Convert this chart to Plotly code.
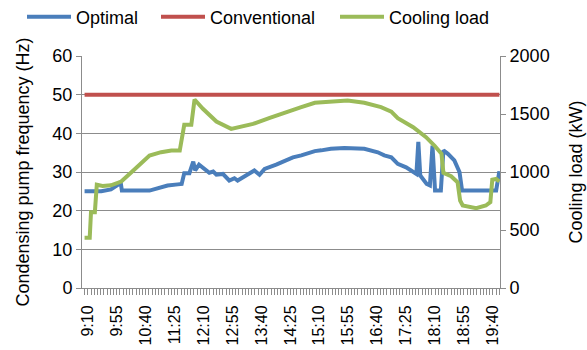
import plotly.graph_objects as go

# ---- data ----
x_labels = ["9:10", "9:55", "10:40", "11:25", "12:10", "12:55", "13:40", "14:25",
            "15:10", "15:55", "16:40", "17:25", "18:10", "18:55", "19:40"]

optimal_time = ["9:05", "9:31", "9:46", "9:57", "10:01", "10:03", "10:46", "10:59", "11:14",
                "11:30", "11:36", "11:40", "11:48", "11:54", "11:57", "12:03", "12:09", "12:19",
                "12:25", "12:30", "12:40", "12:50", "12:58", "13:03", "13:16", "13:29", "13:37",
                "13:45", "14:03", "14:21", "14:29", "14:42", "15:03", "15:13", "15:28", "15:49",
                "16:20", "16:41", "16:51", "17:02", "17:12", "17:25", "17:41", "17:44", "17:47",
                "17:57", "18:02", "18:06", "18:10", "18:19", "18:23", "18:30", "18:40", "18:48",
                "18:52", "19:45", "19:50"]
optimal_hz = [25.0, 25.0, 25.5, 26.7, 27.5, 25.2, 25.2, 25.8, 26.5,
              26.8, 26.9, 29.7, 29.7, 32.7, 30.4, 31.9, 31.2, 29.8,
              30.1, 29.3, 29.5, 27.8, 28.4, 27.8, 29.1, 30.4, 29.3,
              30.8, 31.9, 33.2, 33.8, 34.3, 35.4, 35.6, 36.0, 36.2,
              36.0, 35.1, 34.3, 33.8, 32.1, 31.2, 29.5, 37.8, 29.1,
              26.9, 26.5, 36.8, 25.2, 25.2, 35.6, 34.7, 33.0, 30.0,
              25.2, 25.2, 30.2]

conventional_time = ["9:05", "19:50"]
conventional_hz = [50, 50]

load_time = ["9:05", "9:13", "9:15", "9:21", "9:24", "9:33", "9:46", "10:02", "10:17", "10:33",
             "10:46", "11:04", "11:20", "11:33", "11:40", "11:51", "11:56", "12:09", "12:30",
             "12:53", "13:11", "13:27", "13:53", "14:13", "14:29", "14:42", "15:03", "15:28",
             "15:54", "16:20", "16:46", "17:02", "17:12", "17:36", "17:56", "18:09", "18:20",
             "18:23", "18:35", "18:45", "18:49", "18:53", "19:14", "19:29", "19:36", "19:39",
             "19:45", "19:50"]
load_kw = [433, 433, 653, 653, 890, 880, 885, 918, 993, 1079,
           1142, 1171, 1185, 1185, 1407, 1407, 1625, 1545, 1435,
           1372, 1392, 1415, 1467, 1507, 1536, 1559, 1597, 1608,
           1616, 1597, 1559, 1521, 1464, 1386, 1300, 1228, 1157,
           993, 964, 912, 754, 711, 688, 711, 740, 933,
           940, 918]


def to_min(s):
    h, m = s.split(":")
    return int(h) * 60 + int(m)


BLUE = "#4A7EBB"
RED = "#C0504D"
GREEN = "#9BBB59"
GRID = "#8C8C8C"
FONT = "Liberation Sans, Arial, sans-serif"

fig = go.Figure()
fig.add_trace(go.Scatter(x=[to_min(t) for t in optimal_time], y=optimal_hz, mode="lines",
                         name="Optimal", line=dict(color=BLUE, width=4), legend="legend"))
fig.add_trace(go.Scatter(x=[to_min(t) for t in conventional_time], y=conventional_hz, mode="lines",
                         name="Conventional", line=dict(color=RED, width=4), legend="legend2"))
fig.add_trace(go.Scatter(x=[to_min(t) for t in load_time], y=load_kw, mode="lines",
                         name="Cooling load", line=dict(color=GREEN, width=4), yaxis="y2",
                         legend="legend3"))

leg_common = dict(orientation="h", xref="container", yref="container", yanchor="middle",
                  xanchor="left", y=1 - 17 / 350, font=dict(size=18, color="#000", family=FONT),
                  bgcolor="rgba(0,0,0,0)", itemwidth=44, tracegroupgap=0)

fig.update_layout(
    width=587, height=350,
    margin=dict(l=82, r=87, t=56, b=62),
    paper_bgcolor="white", plot_bgcolor="white",
    font=dict(family=FONT, size=18, color="#000"),
    showlegend=True,
    legend=dict(leg_common, x=22 / 587),
    legend2=dict(leg_common, x=156 / 587),
    legend3=dict(leg_common, x=335 / 587),
    xaxis=dict(range=[541, 1191], tickmode="array", automargin=False,
               tickvals=[to_min(t) for t in x_labels], ticktext=x_labels,
               tickangle=-90, ticks="outside", ticklen=6, tickcolor=GRID,
               ticklabelstandoff=4,
               showline=True, linecolor=GRID, linewidth=1, showgrid=False, zeroline=False,
               tickfont=dict(size=16),
               minor=dict(dtick=5, tick0=545, ticks="outside", ticklen=6, tickcolor=GRID)),
    yaxis=dict(range=[0, 60], dtick=10, showgrid=True, gridcolor=GRID, gridwidth=1,
               automargin=False,
               ticks="outside", ticklen=5, tickcolor=GRID, showline=True, linecolor=GRID,
               zeroline=False, tickfont=dict(size=18),
               title=dict(text="Condensing pump frequency (Hz)", font=dict(size=18), standoff=18)),
    yaxis2=dict(range=[0, 2000], dtick=500, overlaying="y", side="right", showgrid=False,
                automargin=False,
                ticks="outside", ticklen=5, tickcolor=GRID, showline=True, linecolor=GRID,
                zeroline=False, tickfont=dict(size=18),
                title=dict(text="Cooling load (kW)", font=dict(size=18), standoff=20)),
)

fig.write_html("out.html", post_script="document.body.style.margin='0';",
               config={"displayModeBar": False})
